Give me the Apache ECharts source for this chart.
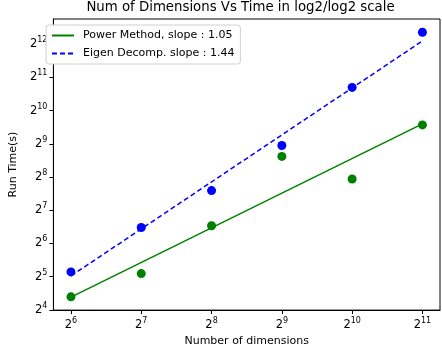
<!DOCTYPE html>
<html>
<head>
<meta charset="utf-8">
<script src="https://cdn.jsdelivr.net/npm/echarts@6/dist/echarts.min.js"></script>
<style>
  html, body { margin: 0; padding: 0; background: #fff; }
  #main { width: 442px; height: 352px; }
</style>
</head>
<body>
<div id="main"></div>
<script>
// log2 of number of dimensions
var dimsLog2 = [6, 7, 8, 9, 10, 11];
// log2 of run time
var powerLog2 = [4.39, 5.09, 6.53, 8.62, 7.94, 9.57];
var eigenLog2 = [5.14, 6.48, 7.59, 8.95, 10.70, 12.36];
// fitted lines (ends at 2^6 and 2^11)
var powerFitX = [6, 11];
var powerFitY = [4.38, 9.60];
var eigenFitX = [6, 11];
var eigenFitY = [5.02, 12.10];
var xTicks = [6, 7, 8, 9, 10, 11];
var yTicks = [4, 5, 6, 7, 8, 9, 10, 11, 12];

var powerName = 'Power Method, slope : 1.05';
var eigenName = 'Eigen Decomp. slope : 1.44';

function zip(a, b) {
  return a.map(function (v, i) { return [v, b[i]]; });
}

var font = 'DejaVu Sans';
var richPow = {
  b: { fontSize: 11.5, fontFamily: font, color: '#000' },
  s: { fontSize: 8, fontFamily: font, color: '#000', padding: [0, 0, 8, 0] }
};
function powLabel(v) { return '{b|2}{s|' + v + '}'; }

var myChart = echarts.init(document.getElementById('main'), null, { renderer: 'canvas' });

var option = {
  animation: false,
  backgroundColor: '#fff',
  title: {
    text: 'Num of Dimensions Vs Time in log2/log2 scale',
    left: 240.5,
    textAlign: 'center',
    top: 1,
    padding: 0,
    textStyle: { fontFamily: font, fontSize: 13.3, fontWeight: 'normal', color: '#000' }
  },
  legend: {
    data: [powerName, eigenName],
    orient: 'vertical',
    left: 46,
    top: 25,
    padding: [5, 6, 5, 5],
    itemWidth: 22,
    itemHeight: 10,
    itemGap: 7,
    itemStyle: { opacity: 0 },
    backgroundColor: '#fff',
    borderColor: '#d0d0d0',
    borderWidth: 1,
    borderRadius: 3,
    textStyle: { fontFamily: font, fontSize: 11, color: '#000', padding: [0, 0, 0, 4] }
  },
  grid: {
    left: 41, right: 2, top: 19, bottom: 36,
    show: true, borderColor: '#000', borderWidth: 1
  },
  xAxis: {
    type: 'value',
    min: 5.75,
    max: 11.25,
    name: 'Number of dimensions',
    nameLocation: 'middle',
    nameGap: 25,
    nameTextStyle: { fontFamily: font, fontSize: 11, color: '#000' },
    splitLine: { show: false },
    axisLine: { show: true, lineStyle: { color: '#000' } },
    axisTick: { show: true, customValues: xTicks, length: 4, lineStyle: { color: '#000' } },
    axisLabel: { customValues: xTicks, formatter: powLabel, rich: richPow, margin: 7 }
  },
  yAxis: {
    type: 'value',
    min: 3.99,
    max: 12.76,
    name: 'Run Time(s)',
    nameLocation: 'middle',
    nameGap: 29,
    nameTextStyle: { fontFamily: font, fontSize: 11, color: '#000' },
    splitLine: { show: false },
    axisLine: { show: true, lineStyle: { color: '#000' } },
    axisTick: { show: true, customValues: yTicks, length: 4, lineStyle: { color: '#000' } },
    axisLabel: { customValues: yTicks, formatter: powLabel, rich: richPow, margin: 6 }
  },
  series: [
    {
      name: powerName,
      type: 'line',
      data: zip(powerFitX, powerFitY),
      symbol: 'none',
      color: '#008000',
      lineStyle: { color: '#008000', width: 1.5, type: 'solid' },
      z: 2
    },
    {
      name: eigenName,
      type: 'line',
      data: zip(eigenFitX, eigenFitY),
      symbol: 'none',
      color: '#0000ff',
      lineStyle: { color: '#0000ff', width: 1.5, type: [5, 3] },
      z: 2
    },
    {
      name: 'power pts',
      type: 'scatter',
      data: zip(dimsLog2, powerLog2),
      symbolSize: 9,
      itemStyle: { color: '#008000', opacity: 1 },
      z: 3
    },
    {
      name: 'eigen pts',
      type: 'scatter',
      data: zip(dimsLog2, eigenLog2),
      symbolSize: 9,
      itemStyle: { color: '#0000ff', opacity: 1 },
      z: 3
    }
  ]
};

myChart.setOption(option);
</script>
</body>
</html>
